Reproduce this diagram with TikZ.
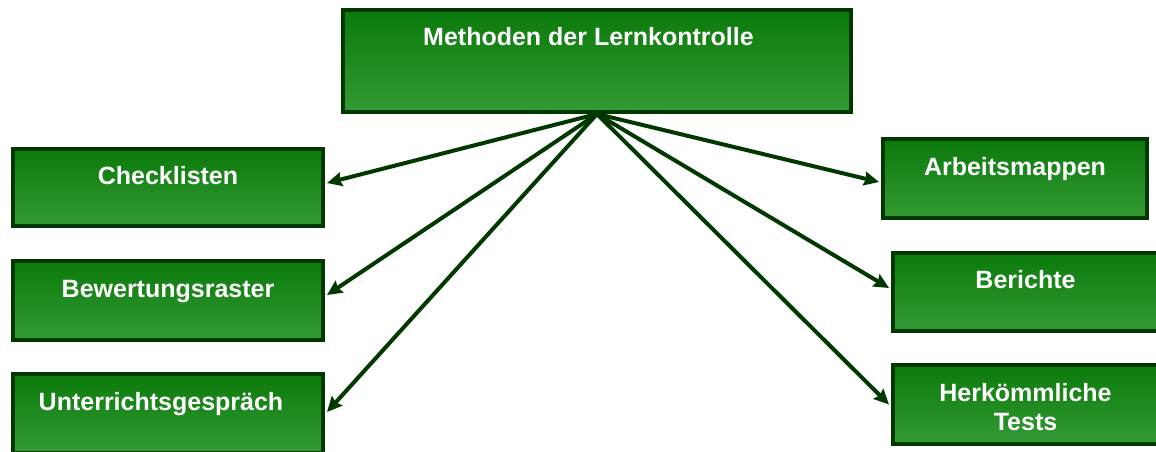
\documentclass[tikz,border=0pt]{standalone}
\usepackage{fontspec}
\setmainfont{Liberation Sans}
\usetikzlibrary{arrows.meta}
\definecolor{boxtop}{RGB}{10,122,10}
\definecolor{boxbot}{RGB}{52,154,52}
\definecolor{edge}{RGB}{0,56,0}
\tikzset{
  box/.style={draw=edge, line width=4pt, outer sep=2pt, top color=boxtop, bottom color=boxbot,
    text=white, font=\fontsize{25}{29}\selectfont\bfseries,
    inner xsep=0pt, inner ysep=0pt, anchor=north west},
  link/.style={draw=edge, line width=4pt, -{Stealth[length=15pt,width=14pt,inset=2pt]}}
}
\begin{document}
\begin{tikzpicture}[x=1pt,y=-1pt]
\useasboundingbox (0,0) rectangle (1156,452);

% root box
\node[box, minimum width=508pt, text height=36pt, text depth=66pt] (top) at (341,8) {Methoden der Lernkontrolle\hspace*{17pt}};

% left column
\node[box, minimum width=310pt, text height=35pt, text depth=42pt] (chk) at (11,147) {Checklisten};
\node[box, minimum width=310pt, text height=36pt, text depth=43pt] (bew) at (11,259) {Bewertungsraster};
\node[box, minimum width=310pt, text height=36pt, text depth=43pt] (unt) at (11,372) {Unterrichtsgespräch\hspace*{14pt}};

% right column
\node[box, minimum width=264pt, text height=36pt, text depth=43pt] (arb) at (881,137) {Arbeitsmappen};
\node[box, minimum width=265pt, text height=35pt, text depth=43pt] (ber) at (891,251) {Berichte};
\node[box, minimum width=265pt, text height=65pt, text depth=14pt, align=center] (her) at (891,363) {Herkömmliche\\Tests};

% connectors
\draw[link] (top.south) -- ([xshift=2pt,yshift=4.5pt]chk.east);
\draw[link] (top.south) -- ([xshift=2pt,yshift=5.5pt]bew.east);
\draw[link] (top.south) -- ([xshift=2pt,yshift=1.5pt]unt.east);
\draw[link] (top.south) -- ([xshift=-2pt,yshift=-3.5pt]arb.west);
\draw[link] (top.south) -- ([xshift=-2pt,yshift=4pt]ber.west);
\draw[link] (top.south) -- ([xshift=-2pt]her.west);
\end{tikzpicture}
\end{document}
